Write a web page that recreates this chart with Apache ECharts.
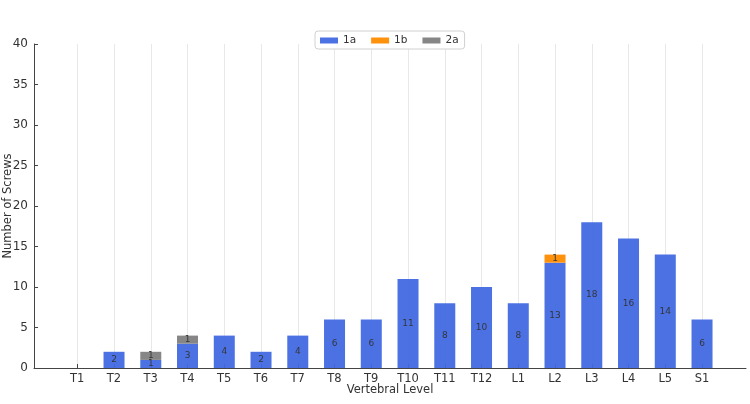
<!DOCTYPE html>
<html>
<head>
<meta charset="utf-8">
<script src="https://cdn.jsdelivr.net/npm/echarts@6/dist/echarts.min.js"></script>
<style>html,body{margin:0;padding:0;background:#fff}#c{width:750px;height:404px}</style>
</head>
<body>
<div id="c"></div>
<script>
const categories = ['T1','T2','T3','T4','T5','T6','T7','T8','T9','T10','T11','T12','L1','L2','L3','L4','L5','S1'];
const s1a = [0,2,1,3,4,2,4,6,6,11,8,10,8,13,18,16,14,6];
const s1b = [0,0,0,0,0,0,0,0,0,0,0,0,0,1,0,0,0,0];
const s2a = [0,0,1,1,0,0,0,0,0,0,0,0,0,0,0,0,0,0];
const yTicks = {min:0, max:40, interval:5};

const chart = echarts.init(document.getElementById('c'));
const TOP = 44, BOTTOM = 36;
const lbl = {show:true, position:'inside', color:'#333', fontSize:9, fontFamily:'DejaVu Sans',
  formatter: p => p.value ? String(p.value) : ''};
function mk(name, data, color){
  return {name, type:'bar', stack:'s', data, xAxisIndex:2, yAxisIndex:2, barWidth:21,
    itemStyle:{color, opacity:0.95}, label:lbl, emphasis:{disabled:true}};
}
chart.setOption({
  animation:false,
  textStyle:{fontFamily:'DejaVu Sans'},
  grid:[
    {left:34, right:4, top:TOP, bottom:BOTTOM, outerBoundsMode:'none', containLabel:false},
    {left:77.25, right:48, top:TOP, bottom:BOTTOM, outerBoundsMode:'none', containLabel:false},
    {left:58.9, right:29.6, top:TOP, bottom:BOTTOM, outerBoundsMode:'none', containLabel:false}
  ],
  legend:{top:31, left:315, data:['1a','1b','2a'], itemWidth:18, itemHeight:6, itemGap:15,
    borderColor:'#d0d0d0', borderWidth:1, borderRadius:3, padding:[4,6,3,5],
    backgroundColor:'#fff', icon:'rect', textStyle:{fontSize:10.5, color:'#333'}},
  xAxis:[
    {gridIndex:0, type:'value', min:0, max:1, axisLabel:{show:false}, axisTick:{show:false}, splitLine:{show:false},
     axisLine:{show:true, lineStyle:{color:'#444', width:1}}, nameMoveOverlap:false,
     name:'Vertebral Level', nameLocation:'middle', nameGap:16, nameTextStyle:{fontSize:11.5, color:'#333'}},
    {gridIndex:1, type:'category', boundaryGap:false, data:categories,
     axisLine:{show:false}, axisTick:{show:true, inside:true, length:4, lineStyle:{color:'#444'}},
     axisLabel:{fontSize:11.5, color:'#333', margin:5, interval:0},
     splitLine:{show:true, lineStyle:{color:'#e8e8e8', width:1}}},
    {gridIndex:2, type:'category', data:categories, show:false}
  ],
  yAxis:[
    {gridIndex:0, type:'value', min:yTicks.min, max:yTicks.max, interval:yTicks.interval,
     axisLine:{show:true, lineStyle:{color:'#444'}}, axisTick:{show:true, inside:true, length:4, lineStyle:{color:'#444'}},
     axisLabel:{fontSize:12, color:'#333', margin:6}, splitLine:{show:false}, nameMoveOverlap:false,
     name:'Number of Screws', nameLocation:'middle', nameGap:20, nameTextStyle:{fontSize:11.5, color:'#333'}},
    {gridIndex:1, type:'value', min:0, max:40, show:false},
    {gridIndex:2, type:'value', min:0, max:40, show:false}
  ],
  series:[
    mk('1a', s1a, '#4169E1'),
    mk('1b', s1b, '#FF8C00'),
    mk('2a', s2a, '#808080')
  ]
});
</script>
</body>
</html>
